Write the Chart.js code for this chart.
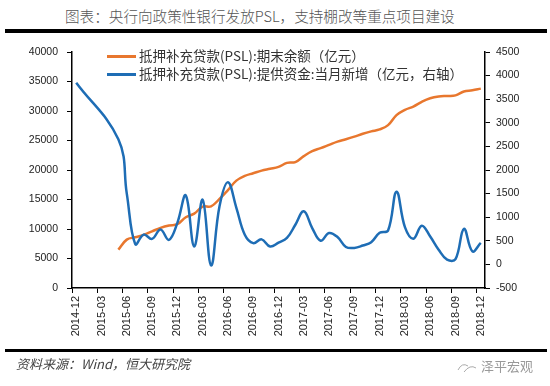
<!DOCTYPE html>
<html>
<head>
<meta charset="utf-8">
<script src="https://cdn.jsdelivr.net/npm/chart.js@4.4.0/dist/chart.umd.min.js"></script>
<style>
    body { margin: 0; background: #fff; }
    #wrap { position: relative; width: 550px; height: 386px; overflow: hidden; font-family: "Noto Sans CJK SC", sans-serif; }
    #chart { position: absolute; left: 0; top: 0; }
    .title { position: absolute; left: 65px; top: 5px; font-size: 14.6px; font-weight: 300; color: #555; white-space: nowrap; }
    .rule { position: absolute; left: 5px; width: 542px; background: #000; }
    .legend { position: absolute; left: 107px; font-size: 13.5px; line-height: 16px; color: #333; white-space: nowrap; }
    .legend .sw { display: inline-block; width: 29px; height: 3px; margin-right: 3px; vertical-align: middle; position: relative; top: -1px; }
    .source { position: absolute; left: 16px; top: 354px; font-size: 13px; font-style: italic; color: #444; white-space: nowrap; }
    .mark { position: absolute; left: 456px; top: 356px; font-size: 13px; color: #999; white-space: nowrap; }
</style>
</head>
<body>
<div id="wrap">
    <div class="title">图表：央行向政策性银行发放PSL，支持棚改等重点项目建设</div>
    <div class="rule" style="top:29px;height:4px"></div>
    <canvas id="chart" width="550" height="386"></canvas>
    <div class="legend" style="top:47px"><span class="sw" style="background:#E8772E"></span>抵押补充贷款(PSL):期末余额（亿元）</div>
    <div class="legend" style="top:65px"><span class="sw" style="background:#1E6DB5"></span>抵押补充贷款(PSL):提供资金:当月新增（亿元，右轴）</div>
    <div class="rule" style="top:349px;height:3px"></div>
    <div class="source">资料来源：Wind，恒大研究院</div>
    <div class="mark"><svg width="22" height="14" style="vertical-align:middle"><path d="M2 10 Q6 2 12 6 M8 12 Q14 4 20 8" stroke="#aaa" fill="none" stroke-width="1"/></svg> 泽平宏观</div>
</div>

<script>
// months 2014-12 .. 2018-12
const months = [
    "2014-12", "2015-01", "2015-02", "2015-03", "2015-04", "2015-05", "2015-06",
    "2015-07", "2015-08", "2015-09", "2015-10", "2015-11", "2015-12",
    "2016-01", "2016-02", "2016-03", "2016-04", "2016-05", "2016-06",
    "2016-07", "2016-08", "2016-09", "2016-10", "2016-11", "2016-12",
    "2017-01", "2017-02", "2017-03", "2017-04", "2017-05", "2017-06",
    "2017-07", "2017-08", "2017-09", "2017-10", "2017-11", "2017-12",
    "2018-01", "2018-02", "2018-03", "2018-04", "2018-05", "2018-06",
    "2018-07", "2018-08", "2018-09", "2018-10", "2018-11", "2018-12"
];

// PSL balance, left axis (亿元)
const pslBalance = [
    null, null, null, null, null, 6500, 8200,
    8600, 9000, 9600, 10200, 10600, 10811,
    12000, 12600, 13800, 13850, 15100, 16600,
    18200, 19000, 19450, 19900, 20200, 20526,
    21200, 21350, 22350, 23200, 23700, 24250,
    24800, 25200, 25650, 26150, 26550, 26876,
    27600, 29300, 30200, 30750, 31550, 32150,
    32450, 32550, 32650, 33300, 33500, 33795
];

// PSL new this month, right axis (亿元)
const pslNew = [
    3850, null, null, null, null, 2650, 1500,
    430, 630, 540, 740, 520, 880,
    1460, 380, 1370, -20, 1230, 1740,
    1200, 630, 450, 530, 380, 460,
    560, 840, 1125, 770, 500, 666,
    580, 370, 350, 400, 470, 670,
    720, 1540, 790, 545, 820, 590,
    310, 100, 110, 755, 276, 454
];

const leftTicks = [0, 5000, 10000, 15000, 20000, 25000, 30000, 35000, 40000];
const rightTicks = [-500, 0, 500, 1000, 1500, 2000, 2500, 3000, 3500, 4000, 4500];

const orange = "#E8772E";
const blue = "#1E6DB5";
const tickFont = { family: "Liberation Sans", size: 10.5 };

const ctx = document.getElementById("chart");

new Chart(ctx, {
    type: "line",
    data: {
        labels: months,
        datasets: [
            {
                label: "抵押补充贷款(PSL):期末余额（亿元）",
                data: pslBalance,
                yAxisID: "yLeft",
                borderColor: orange,
                borderWidth: 2.5,
                pointRadius: 0,
                tension: 0.4,
                spanGaps: true,
                order: 1,
            },
            {
                label: "抵押补充贷款(PSL):提供资金:当月新增（亿元，右轴）",
                data: pslNew,
                yAxisID: "yRight",
                borderColor: blue,
                borderWidth: 2.5,
                pointRadius: 0,
                tension: 0.4,
                spanGaps: true,
                order: 0,
            },
        ],
    },
    options: {
        responsive: false,
        animation: false,
        layout: { padding: { left: 20, right: 15, top: 52, bottom: 43 } },
        plugins: {
            legend: { display: false },
            tooltip: { enabled: false },
        },
        scales: {
            x: {
                type: "category",
                offset: true,
                grid: {
                    offset: true,
                    drawOnChartArea: false,
                    tickLength: 5,
                    color: (c) => (c.index % 3 === 0 ? "#000" : "rgba(0,0,0,0)"),
                },
                border: { color: "#000", width: 1.5 },
                ticks: {
                    autoSkip: false,
                    minRotation: 90,
                    maxRotation: 90,
                    padding: 3,
                    color: "#222",
                    font: { family: "Liberation Sans", size: 11 },
                    callback: (v, i) => (i % 3 === 0 ? months[i] : ""),
                },
                afterFit: (s) => { s.height = 55; },
            },
            yLeft: {
                position: "left",
                min: 0,
                max: 40000,
                afterBuildTicks: (s) => { s.ticks = leftTicks.map((v) => ({ value: v })); },
                grid: { drawOnChartArea: false, tickLength: 5, color: "#000" },
                border: { color: "#000", width: 1.5 },
                ticks: { padding: 9, color: "#222", font: tickFont, callback: (v) => String(v) },
                afterFit: (s) => { s.width = 52; },
            },
            yRight: {
                position: "right",
                min: -500,
                max: 4500,
                afterBuildTicks: (s) => { s.ticks = rightTicks.map((v) => ({ value: v })); },
                grid: { drawOnChartArea: false, tickLength: 5, color: "#000" },
                border: { color: "#000", width: 1.5 },
                ticks: { padding: 6, color: "#222", font: tickFont, callback: (v) => String(v) },
                afterFit: (s) => { s.width = 50; },
            },
        },
    },
});
</script>
</body>
</html>
